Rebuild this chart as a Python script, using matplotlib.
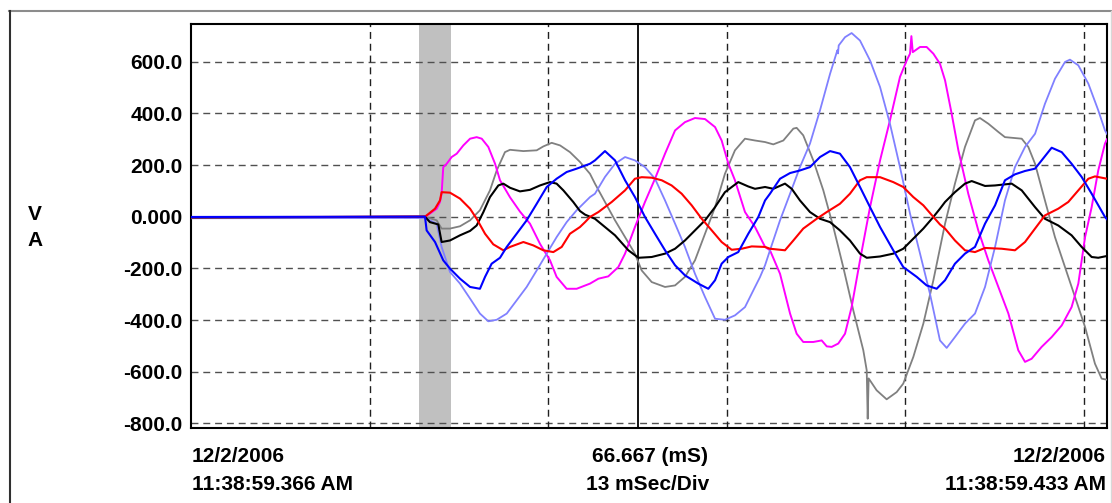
import numpy as np
import matplotlib
matplotlib.use("Agg")
import matplotlib.pyplot as plt
from matplotlib.lines import Line2D

plt.rcParams['font.family'] = ['Liberation Sans', 'DejaVu Sans']

# ---------- data: (time in ms, value) ----------
black = np.array([
    (0, -3), (17.03, 0), (17.39, -21), (18.0, -30), (18.24, -98), (18.85, -92), (19.58, -72),
    (20.31, -55), (20.79, -34), (21.28, 18), (21.76, 76), (22.37, 121), (22.73, 128), (23.22, 112),
    (23.94, 98), (24.67, 104), (25.40, 121), (26.13, 134), (26.61, 128), (27.10, 102), (27.82, 57),
    (28.31, 22), (28.68, 8), (29.40, -8), (30.13, -40), (30.86, -72), (31.83, -130), (32.56, -159),
    (33.53, -156), (34.50, -143), (35.23, -124), (35.95, -92), (36.68, -53), (37.41, -14), (38.14, 37),
    (38.86, 95), (39.83, 134), (40.56, 117), (41.05, 108), (41.78, 115), (42.38, 108), (43.23, 128),
    (43.72, 108), (44.32, 63), (45.05, 18), (45.78, -8), (46.51, -21), (47.23, -53), (47.96, -92),
    (48.69, -143), (49.18, -159), (50.15, -154), (51.11, -143), (51.84, -124), (52.57, -85),
    (53.30, -46), (54.03, -1), (54.51, 31), (54.88, 57), (55.60, 95), (56.33, 128), (56.82, 138),
    (57.79, 119), (58.52, 121), (59.73, 128), (60.46, 102), (61.43, 37), (62.15, -8), (63.12, -34),
    (64.09, -72), (64.82, -117), (65.55, -156), (66.03, -159), (66.67, -152)])

red = np.array([
    (0, -2), (17.03, 0), (17.76, 31), (18.12, 63), (18.24, 95), (18.85, 93), (19.58, 70), (20.31, 31),
    (20.79, -8), (21.40, -66), (22.0, -107), (22.73, -130), (23.22, -117), (24.19, -98), (24.91, -111),
    (25.64, -130), (26.37, -137), (26.98, -117), (27.58, -66), (28.31, -40), (28.68, -21), (29.04, -1),
    (29.65, 18), (30.62, 57), (31.59, 102), (32.31, 147), (32.80, 153), (33.53, 151), (34.26, 141),
    (34.98, 121), (35.71, 89), (36.44, 44), (37.17, -8), (37.90, -53), (38.62, -98), (39.35, -128),
    (40.08, -124), (40.81, -115), (41.78, -117), (42.14, -124), (43.23, -130), (43.84, -92),
    (44.56, -46), (45.54, -8), (46.27, 18), (47.23, 50), (47.96, 89), (48.69, 141), (49.18, 153),
    (50.15, 153), (51.11, 134), (51.84, 115), (52.57, 76), (53.30, 44), (54.03, -1), (54.51, -30),
    (54.88, -46), (55.60, -92), (56.33, -130), (57.06, -137), (57.79, -121), (59.0, -124),
    (59.97, -130), (60.70, -98), (61.43, -46), (62.15, 5), (63.12, 31), (63.85, 57), (64.58, 102),
    (65.31, 147), (65.79, 156), (66.67, 147)])

blue = np.array([
    (0, -1), (17.03, 0), (17.15, -53), (17.76, -98), (18.36, -169), (18.85, -201), (19.58, -240),
    (20.31, -272), (21.03, -279), (21.40, -233), (21.88, -182), (22.49, -159), (22.98, -117),
    (23.70, -66), (24.43, -14), (25.16, 50), (25.89, 115), (26.61, 147), (27.34, 173), (28.07, 186),
    (29.04, 205), (29.40, 218), (30.13, 254), (30.86, 218), (31.59, 141), (32.31, 76), (33.04, -1),
    (33.77, -66), (34.50, -130), (35.23, -188), (35.95, -227), (36.92, -259), (37.65, -279),
    (38.14, -246), (38.62, -182), (39.11, -156), (39.83, -137), (40.56, -66), (41.29, -1),
    (41.78, 63), (42.14, 89), (42.87, 147), (43.60, 169), (44.32, 179), (45.05, 192), (45.78, 231),
    (46.51, 254), (47.23, 244), (47.96, 192), (48.69, 115), (49.42, 37), (50.15, -40), (51.11, -130),
    (51.84, -195), (52.82, -233), (53.54, -266), (54.27, -279), (54.88, -246), (55.60, -182),
    (56.33, -143), (57.06, -117), (57.79, -27), (58.52, 44), (59.24, 141), (59.97, 164),
    (60.70, 177), (61.43, 186), (61.91, 218), (62.64, 267), (63.37, 250), (64.09, 205),
    (64.82, 154), (65.55, 89), (66.52, -1), (66.67, -10)])

gray = np.array([
    (0, -3), (17.03, 0), (17.88, -14), (18.24, -46), (18.85, -46), (19.58, -37), (20.31, -14),
    (21.03, 25), (21.76, 102), (22.25, 179), (22.85, 250), (23.22, 259), (24.19, 254), (25.16, 257),
    (25.64, 272), (26.25, 286), (26.86, 276), (27.58, 250), (28.31, 212), (29.04, 166), (29.40, 128),
    (30.13, 57), (30.86, -14), (31.59, -79), (32.31, -143), (32.80, -208), (33.53, -253),
    (34.50, -272), (35.23, -266), (35.95, -233), (36.68, -169), (37.41, -66), (38.14, 37),
    (38.86, 166), (39.59, 257), (40.32, 302), (41.05, 295), (41.78, 289), (42.38, 280), (43.11, 295),
    (43.84, 341), (44.08, 344), (44.56, 315), (45.29, 218), (46.02, 102), (46.75, -40),
    (47.47, -195), (48.20, -362), (48.93, -517), (49.18, -595), (49.25, -782), (49.32, -626),
    (49.90, -672), (50.63, -707), (51.36, -679), (51.84, -646), (52.57, -543), (53.30, -414),
    (54.03, -246), (54.88, -27), (55.60, 128), (56.33, 270), (57.06, 373), (57.42, 382),
    (58.03, 360), (58.76, 328), (59.24, 308), (60.46, 302), (60.94, 270), (61.43, 205), (62.15, 63),
    (62.88, -79), (63.61, -195), (64.34, -311), (65.07, -427), (65.79, -569), (66.28, -627),
    (66.67, -631)])

magenta = np.array([
    (0, -3), (17.03, 0), (17.39, 12), (17.88, 31), (18.12, 57), (18.24, 89), (18.36, 192),
    (18.61, 205), (18.97, 231), (19.34, 244), (19.82, 276), (20.31, 302), (20.79, 308), (21.16, 302),
    (21.64, 270), (22.13, 205), (22.49, 141), (23.22, 75), (23.94, 20), (24.67, -27), (25.40, -105),
    (26.13, -169), (26.61, -233), (27.34, -279), (28.07, -279), (29.04, -259), (29.65, -240),
    (30.37, -231), (31.10, -195), (31.59, -143), (32.31, -40), (33.04, 57), (33.77, 147),
    (34.50, 244), (35.23, 334), (35.95, 366), (36.68, 382), (37.41, 378), (38.14, 347), (38.62, 295),
    (39.11, 205), (39.59, 141), (40.32, 18), (41.05, -40), (41.78, -117), (42.14, -130),
    (42.87, -221), (43.60, -375), (44.08, -453), (44.56, -485), (45.29, -485), (45.90, -479),
    (46.27, -502), (46.63, -504), (47.11, -491), (47.60, -453), (48.08, -350), (48.69, -169),
    (49.42, 37), (50.15, 218), (50.87, 373), (51.60, 541), (52.09, 605), (52.33, 631), (52.43, 699),
    (52.53, 637), (53.06, 657), (53.54, 657), (54.03, 631), (54.51, 592), (54.88, 528), (55.36, 399),
    (55.85, 257), (56.57, 89), (57.30, -53), (58.03, -169), (58.76, -272), (59.49, -375),
    (60.21, -517), (60.70, -562), (61.18, -550), (61.91, -504), (62.64, -466), (63.37, -421),
    (64.09, -350), (64.58, -259), (65.07, -79), (65.55, 37), (66.03, 179), (66.52, 283),
    (66.67, 300)])

light_blue = np.array([
    (0, -6), (17.03, -5), (17.88, -27), (18.24, -117), (18.85, -214), (19.58, -259), (20.31, -317),
    (21.03, -375), (21.64, -405), (22.25, -399), (22.98, -375), (23.70, -324), (24.43, -272),
    (25.16, -208), (25.89, -143), (26.61, -79), (27.34, -21), (28.07, 25), (29.04, 76), (29.40, 89),
    (30.13, 154), (30.86, 205), (31.59, 231), (32.31, 218), (33.04, 192), (33.77, 147), (34.50, 63),
    (35.23, -27), (35.95, -117), (36.68, -221), (37.41, -311), (38.14, -395), (38.86, -399),
    (39.59, -382), (40.32, -350), (41.05, -272), (41.41, -234), (41.78, -188), (42.14, -130),
    (42.87, -14), (43.60, 89), (44.32, 192), (45.05, 283), (45.78, 412), (46.51, 553), (47.04, 644),
    (47.09, 632), (47.14, 663), (47.60, 695), (48.08, 711), (48.69, 682), (49.42, 605), (50.15, 502),
    (50.87, 360), (51.60, 192), (52.33, 12), (53.06, -143), (53.78, -298), (54.51, -479),
    (55.0, -508), (55.60, -466), (56.33, -414), (57.06, -375), (57.79, -272), (58.52, -117),
    (59.24, 63), (59.97, 192), (60.70, 270), (61.43, 321), (62.15, 437), (62.88, 534), (63.61, 599),
    (63.97, 608), (64.58, 586), (65.31, 515), (66.03, 412), (66.52, 334), (66.67, 320)])

y_ticks = [600, 400, 200, 0, -200, -400, -600, -800]
y_labels = ['600.0', '400.0', '200.0', '0.000', '-200.0', '-400.0', '-600.0', '-800.0']
ms_per_div = 13
span_ms = 66.667
trigger = (16.62, 18.90)
cursor_ms = 32.56

start_date, start_time = '12/2/2006', '11:38:59.366 AM'
end_date, end_time = '12/2/2006', '11:38:59.433 AM'

# ---------- figure ----------
W, H = 1112, 503
fig = plt.figure(figsize=(W / 100, H / 100), dpi=100)
fig.patch.set_facecolor('white')

def fx(px):
    return px / W

def fy(py):
    return 1 - py / H

# outer panel frame
fig.add_artist(Line2D([fx(9), fx(1112)], [fy(11), fy(11)], color='#8c8c8c', lw=1.5))
fig.add_artist(Line2D([fx(9.5), fx(9.5)], [fy(11), fy(503)], color='#303030', lw=1.5))
fig.add_artist(Line2D([fx(1110.5), fx(1110.5)], [fy(11), fy(503)], color='#d8d8d8', lw=1.0))

ax = fig.add_axes([fx(191), fy(428), fx(1107 - 191), (428 - 24) / H])
ax.set_xlim(0, span_ms)
ax.set_ylim(-818, 746)

dash = (0, (5, 3.5))
for v in y_ticks:
    ax.axhline(v, color='#505050', lw=1.0, ls=dash, zorder=1)
for t in np.arange(ms_per_div, span_ms, ms_per_div):
    ax.axvline(t, color='#202020', lw=1.0, ls=dash, zorder=1)

ax.axvspan(*trigger, color='#c0c0c0', lw=0, zorder=0.5)
ax.axvline(cursor_ms, color='black', lw=1.3, zorder=1.5)

for data, col, lw in [(gray, '#808080', 1.3), (magenta, '#ff00ff', 1.4), (light_blue, '#8080ff', 1.3),
                      (black, 'black', 1.5), (red, 'red', 1.5), (blue, 'blue', 1.5)]:
    ax.plot(data[:, 0], data[:, 1], color=col, lw=lw, zorder=3)

ax.set_yticks(y_ticks)
ax.set_yticklabels(y_labels, fontsize=15, fontweight='bold')
ax.set_xticks([])
ax.tick_params(axis='y', length=0, pad=6)
for s in ax.spines.values():
    s.set_color('black')
    s.set_linewidth(1.5)

# unit labels
fig.text(fx(35), fy(215), 'V', fontsize=15, fontweight='bold', ha='center', va='center')
fig.text(fx(35), fy(241), 'A', fontsize=15, fontweight='bold', ha='center', va='center')

# time annotations
kw = dict(fontsize=15, fontweight='bold', va='center')
fig.text(fx(192), fy(457), start_date, ha='left', **kw)
fig.text(fx(192), fy(485), start_time, ha='left', **kw)
fig.text(fx(650), fy(457), f'{span_ms:.3f} (mS)', ha='center', **kw)
fig.text(fx(648), fy(485), f'{ms_per_div} mSec/Div', ha='center', **kw)
fig.text(fx(1106), fy(457), end_date, ha='right', **kw)
fig.text(fx(1106), fy(485), end_time, ha='right', **kw)

fig.savefig('out.png', dpi=100)
